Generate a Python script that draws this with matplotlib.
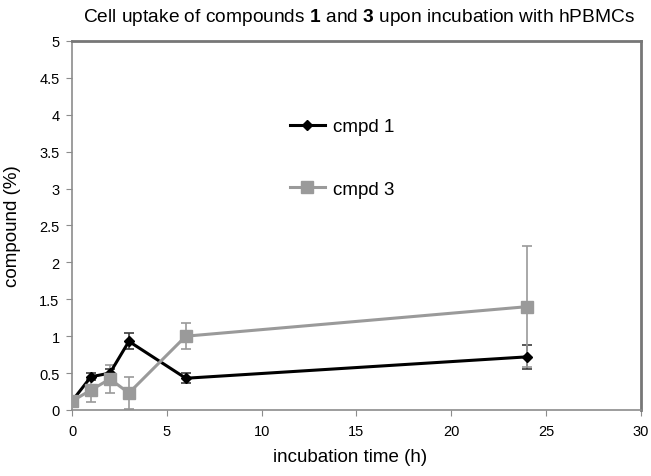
import matplotlib
matplotlib.use("Agg")
import matplotlib.pyplot as plt
from matplotlib.lines import Line2D

plt.rcParams['font.family'] = ['Liberation Sans', 'DejaVu Sans']
plt.rcParams['mathtext.fontset'] = 'custom'
plt.rcParams['mathtext.rm'] = 'Liberation Sans'
plt.rcParams['mathtext.bf'] = 'Liberation Sans:bold'

# data
time_h = [0, 1, 2, 3, 6, 24]
cmpd1 = [0.12, 0.45, 0.50, 0.93, 0.43, 0.72]
cmpd1_err = [0.03, 0.05, 0.05, 0.11, 0.07, 0.16]
cmpd3 = [0.12, 0.27, 0.42, 0.23, 1.00, 1.40]
cmpd3_err = [0.03, 0.16, 0.19, 0.22, 0.18, 0.82]

x_ticks = [0, 5, 10, 15, 20, 25, 30]
y_ticks = [0, 0.5, 1, 1.5, 2, 2.5, 3, 3.5, 4, 4.5, 5]
y_labels = ["0", "0.5", "1", "1.5", "2", "2.5", "3", "3.5", "4", "4.5", "5"]

gray = "#9a9a9a"
frame = "#8c8c8c"

fig = plt.figure(figsize=(6.51, 4.77), dpi=100)
ax = fig.add_axes([0.1106, 0.1384, 0.874, 0.7736])

# error bars first, then lines and markers
ax.errorbar(time_h, cmpd1, yerr=cmpd1_err, fmt="none", ecolor="#3c3c3c",
            elinewidth=1.2, capsize=3.5, capthick=1.2, zorder=2)
ax.errorbar(time_h, cmpd3, yerr=cmpd3_err, fmt="none", ecolor=gray,
            elinewidth=1.2, capsize=3.5, capthick=1.2, zorder=2)
ax.plot(time_h, cmpd1, color="black", lw=2.2, marker="D", ms=5.5, zorder=3)
ax.plot(time_h, cmpd3, color=gray, lw=2.2, marker="s", ms=8.5, zorder=4)

ax.set_xlim(0, 30)
ax.set_ylim(0, 5)
ax.set_xticks(x_ticks)
ax.set_yticks(y_ticks)
ax.set_yticklabels(y_labels)
ax.tick_params(axis="both", labelsize=10.5, color=frame, length=4, direction="out")
ax.tick_params(axis="x", pad=6)
ax.tick_params(axis="y", pad=5)

for side in ["left", "bottom"]:
    ax.spines[side].set_color(frame)
    ax.spines[side].set_linewidth(1.2)
for side in ["top", "right"]:
    ax.spines[side].set_color("#777777")
    ax.spines[side].set_linewidth(2)

ax.set_xlabel("incubation time (h)", fontsize=13.5, va="center")
ax.xaxis.set_label_coords(0.489, -0.125)
ax.set_ylabel("compound (%)", fontsize=13.5, va="center")
ax.yaxis.set_label_coords(-0.105, 0.5)

fig.text(0.551, 0.964,
         "Cell uptake of compounds $\\mathbf{1}$ and $\\mathbf{3}$ upon incubation with hPBMCs",
         fontsize=13.8, ha="center", va="center")

handles = [Line2D([], [], color="black", lw=2.2, marker="D", ms=5.5),
           Line2D([], [], color=gray, lw=2.2, marker="s", ms=8.5)]
ax.legend(handles, ["cmpd 1", "cmpd 3"], loc="upper left",
          bbox_to_anchor=(0.383, 0.791), frameon=False, fontsize=13.5,
          borderpad=0, borderaxespad=0, labelspacing=2.42,
          handlelength=1.85, handletextpad=0.45)

fig.savefig("out.png", dpi=100)
